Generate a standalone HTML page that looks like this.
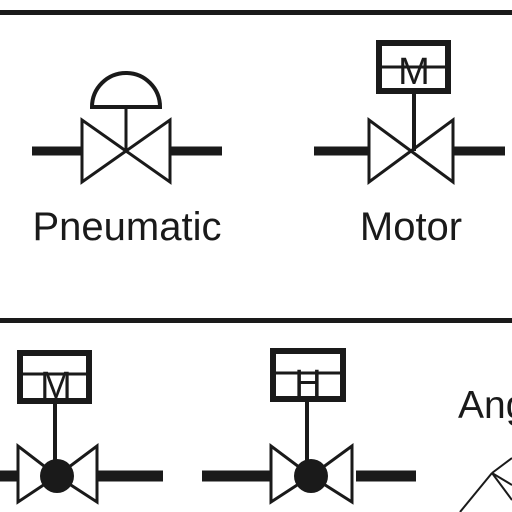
<!DOCTYPE html>
<html><head><style>html,body{margin:0;padding:0;background:#fff;width:512px;height:512px;overflow:hidden}</style></head>
<body>
<svg width="512" height="512" viewBox="0 0 512 512" xmlns="http://www.w3.org/2000/svg" style="font-family:'Liberation Sans',sans-serif">
<rect x="0" y="10" width="512" height="5" fill="#1a1a1a"/>
<rect x="0" y="318" width="512" height="5" fill="#1a1a1a"/>

<g stroke="#1a1a1a" fill="none">
  <line x1="32" y1="151" x2="82" y2="151" stroke-width="9"/>
  <line x1="170" y1="151" x2="222" y2="151" stroke-width="9"/>
  <polygon points="82,120 82,182 126,151 170,120 170,182 126,151" stroke-width="3" fill="#fff"/>
  <line x1="126" y1="151" x2="126" y2="107" stroke-width="3"/>
  <path d="M92,107 A34,34 0 0 1 160,107 Z" stroke-width="4" fill="#fff"/>
</g>
<text x="127" y="240" font-size="40" text-anchor="middle" fill="#1a1a1a">Pneumatic</text>

<g stroke="#1a1a1a" fill="none">
  <line x1="314" y1="151" x2="368" y2="151" stroke-width="9"/>
  <line x1="453" y1="151" x2="505" y2="151" stroke-width="9"/>
  <polygon points="369,120 369,182 411,151 453,120 453,182 411,151" stroke-width="3" fill="#fff"/>
  <line x1="414" y1="93" x2="414" y2="151" stroke-width="4"/>
  <rect x="379" y="43" width="69" height="48" stroke-width="6" fill="#fff"/>
  <line x1="379" y1="67" x2="448" y2="67" stroke-width="3"/>
</g>
<text x="414" y="84" font-size="38" text-anchor="middle" fill="#1a1a1a">M</text>
<text x="411" y="240" font-size="40" text-anchor="middle" fill="#1a1a1a">Motor</text>

<g stroke="#1a1a1a" fill="none">
  <line x1="0" y1="476" x2="17" y2="476" stroke-width="11"/>
  <line x1="98" y1="476" x2="163" y2="476" stroke-width="11"/>
  <polygon points="18,446 18,502 57,476 97,446 97,502 57,476" stroke-width="3" fill="#fff"/>
  <line x1="55" y1="403" x2="55" y2="476" stroke-width="4"/>
  <rect x="20" y="353" width="69" height="48" stroke-width="6" fill="#fff"/>
  <line x1="20" y1="374" x2="89" y2="374" stroke-width="3"/>
  <circle cx="57" cy="476" r="17" fill="#1a1a1a" stroke="none"/>
</g>
<text x="56" y="398" font-size="38" text-anchor="middle" fill="#1a1a1a">M</text>

<g stroke="#1a1a1a" fill="none">
  <line x1="202" y1="476" x2="270" y2="476" stroke-width="11"/>
  <line x1="356" y1="476" x2="416" y2="476" stroke-width="11"/>
  <polygon points="271,446 271,502 311,476 352,446 352,502 311,476" stroke-width="3" fill="#fff"/>
  <line x1="307" y1="401" x2="307" y2="476" stroke-width="4"/>
  <rect x="273" y="351" width="70" height="48" stroke-width="6" fill="#fff"/>
  <line x1="273" y1="373" x2="343" y2="373" stroke-width="3"/>
  <circle cx="311" cy="476" r="17" fill="#1a1a1a" stroke="none"/>
</g>
<text x="308" y="396" font-size="38" text-anchor="middle" fill="#1a1a1a">H</text>

<text x="458" y="418" font-size="39" fill="#1a1a1a">Angle</text>
<g stroke="#1a1a1a" stroke-width="2" fill="none">
  <line x1="460" y1="512" x2="492" y2="473"/>
  <line x1="492" y1="473" x2="512" y2="458"/>
  <line x1="492" y1="473" x2="512" y2="500"/>
  <line x1="492" y1="473" x2="512" y2="485"/>
</g>
</svg>
</body></html>
